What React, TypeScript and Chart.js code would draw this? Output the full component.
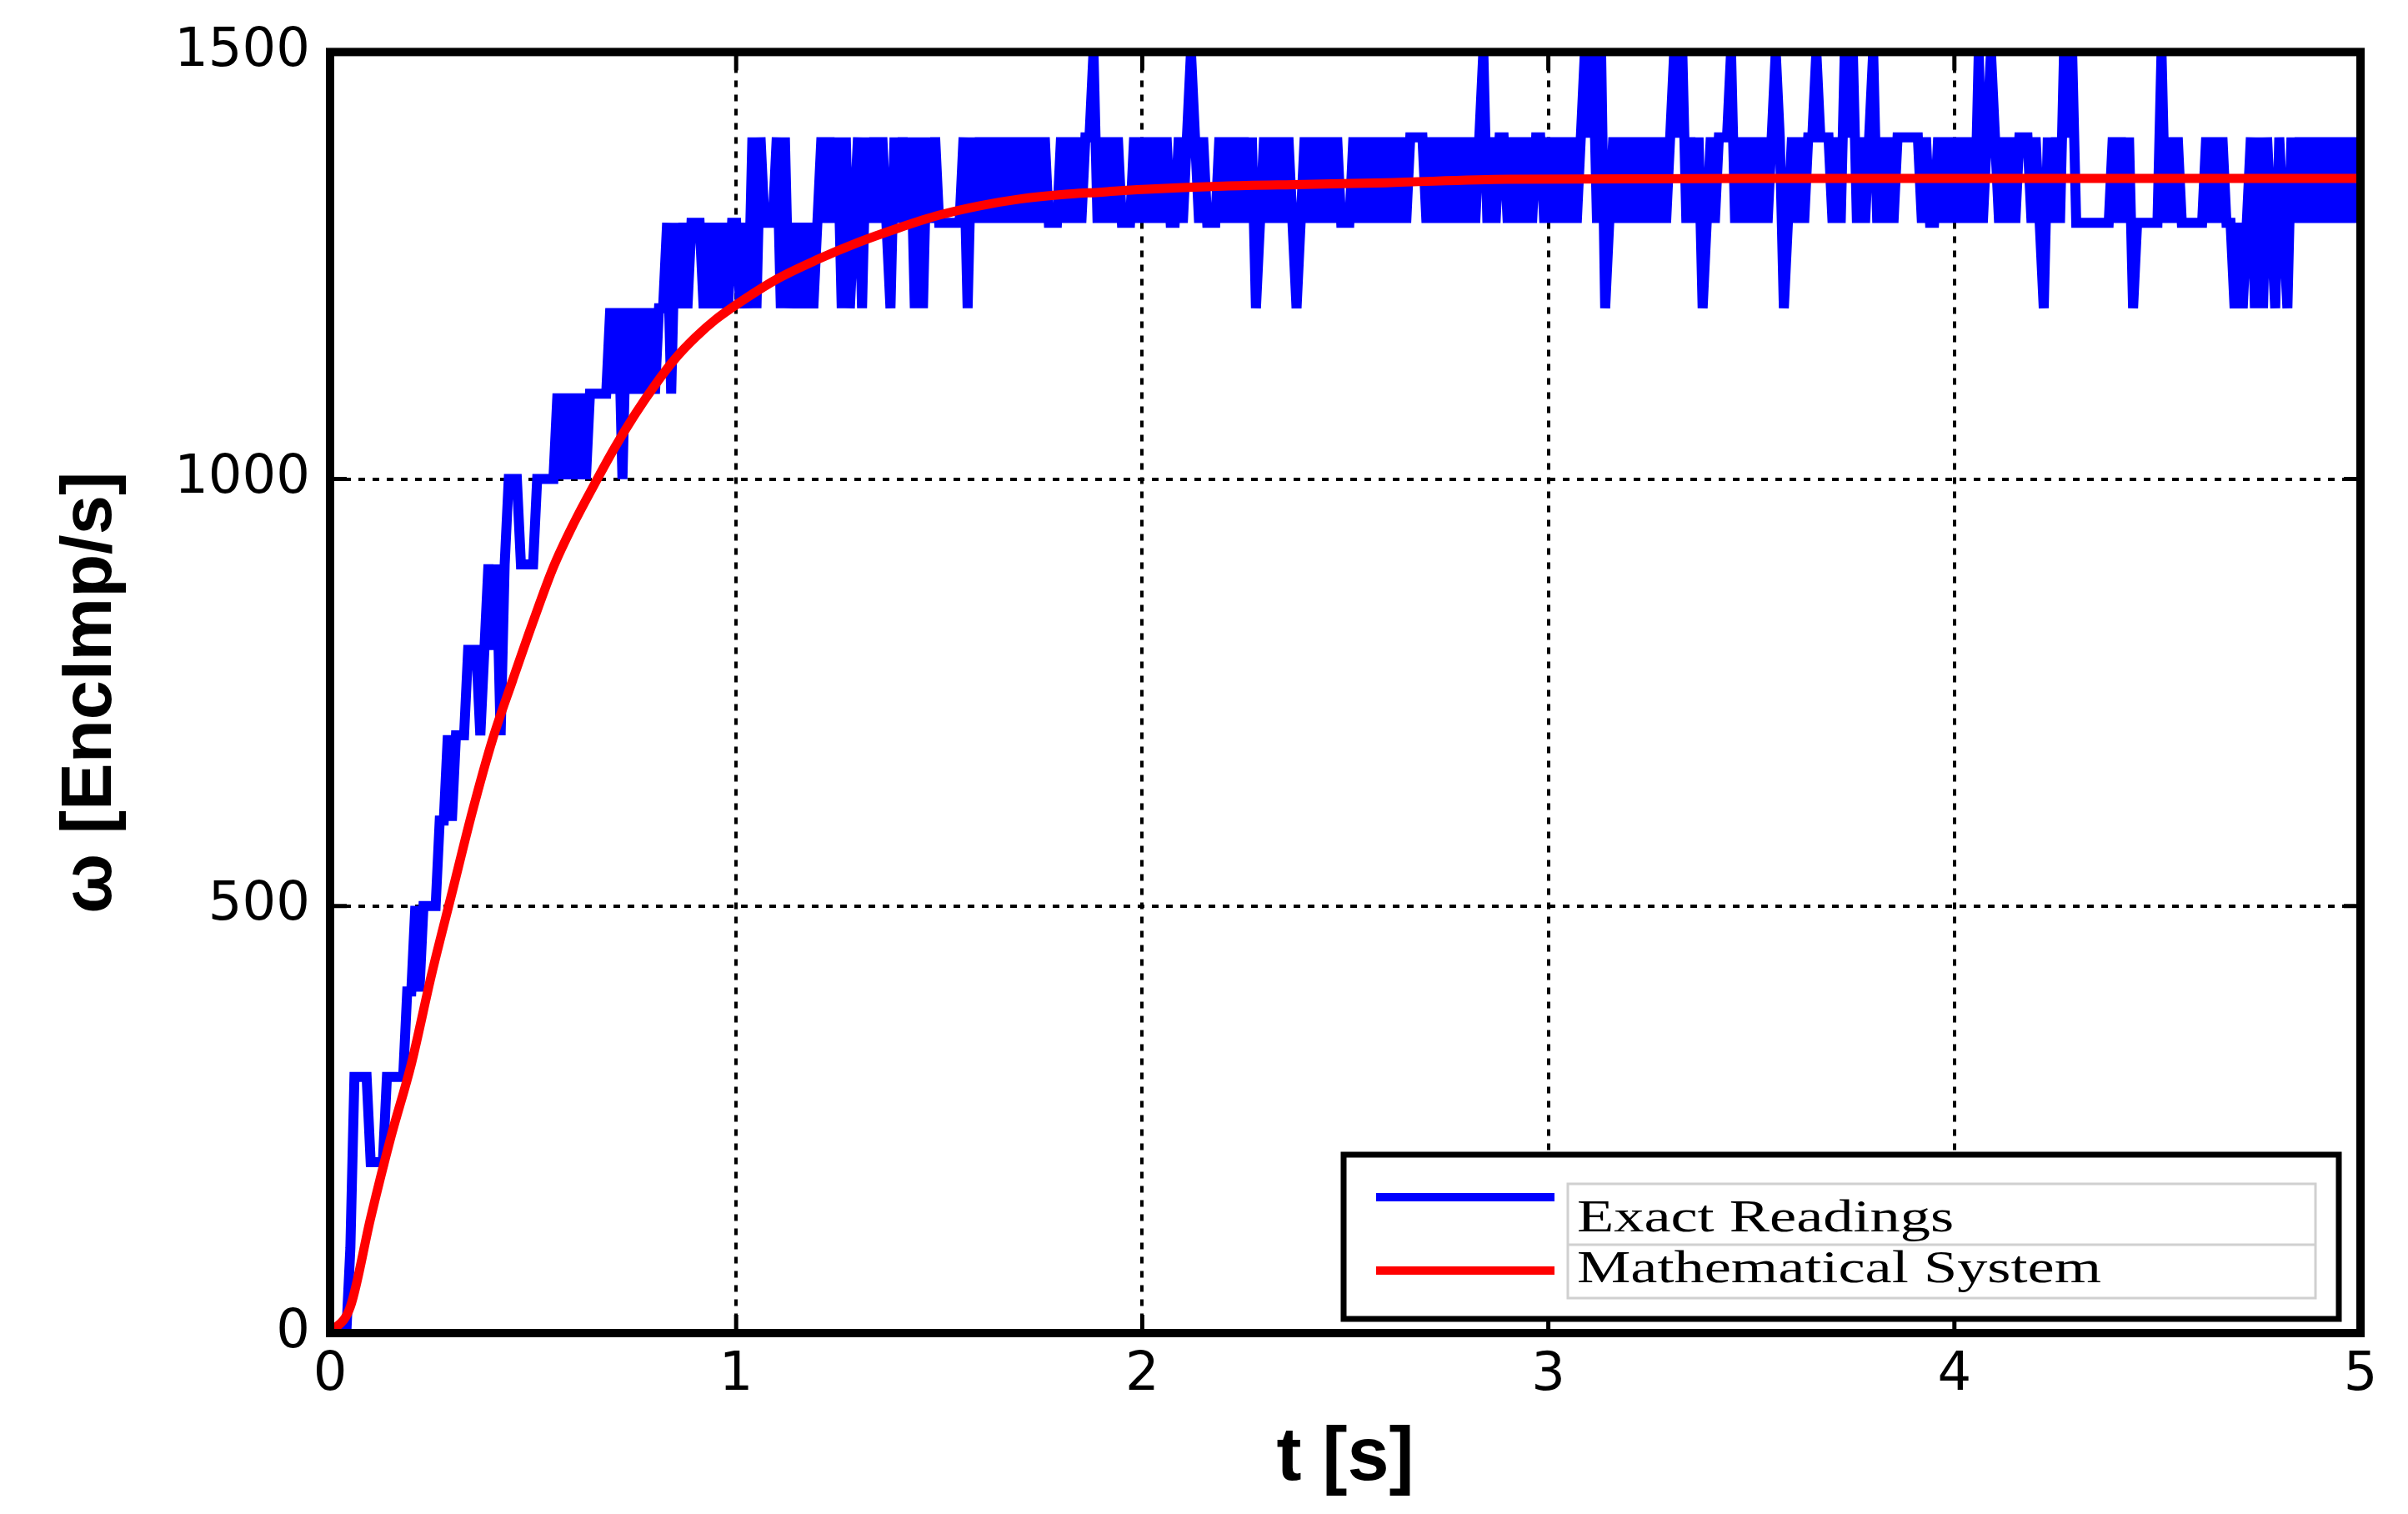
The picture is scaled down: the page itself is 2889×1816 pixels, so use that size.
import React, { useEffect, useRef } from "react";
import { Chart, registerables } from "chart.js";

Chart.register(...registerables);

// ---------------- data ----------------
const SAMPLE_DT = 0.01; // s between encoder readings

const EXACT_READINGS: number[] = [
  0, 0, 0, 0, 0, 100, 300, 300, 300, 300,
  200, 200, 200, 200, 300, 300, 300, 300, 300, 400,
  400, 500, 400, 500, 500, 500, 500, 600, 600, 700,
  600, 700, 700, 700, 800, 800, 800, 700, 800, 900,
  800, 900, 700, 900, 1000, 1000, 1000, 900, 900, 900,
  900, 1000, 1000, 1000, 1000, 1000, 1100, 1000, 1100, 1000,
  1100, 1000, 1100, 1000, 1100, 1100, 1100, 1100, 1100, 1200,
  1100, 1200, 1000, 1200, 1100, 1200, 1100, 1200, 1100, 1200,
  1100, 1200, 1200, 1300, 1100, 1300, 1200, 1300, 1200, 1300,
  1300, 1300, 1200, 1300, 1200, 1300, 1200, 1300, 1200, 1300,
  1300, 1200, 1300, 1200, 1400, 1200, 1400, 1300, 1300, 1300,
  1400, 1200, 1400, 1200, 1300, 1200, 1300, 1200, 1300, 1200,
  1300, 1400, 1300, 1400, 1300, 1400, 1200, 1400, 1200, 1300,
  1400, 1200, 1400, 1300, 1400, 1300, 1400, 1300, 1200, 1400,
  1300, 1400, 1300, 1400, 1200, 1400, 1200, 1400, 1300, 1400,
  1300, 1300, 1300, 1300, 1300, 1300, 1400, 1200, 1400, 1300,
  1400, 1300, 1400, 1300, 1400, 1300, 1400, 1300, 1400, 1300,
  1400, 1300, 1400, 1300, 1400, 1300, 1400, 1300, 1300, 1300,
  1400, 1300, 1400, 1300, 1400, 1300, 1400, 1400, 1500, 1300,
  1400, 1300, 1400, 1300, 1400, 1300, 1300, 1300, 1400, 1300,
  1400, 1300, 1400, 1300, 1400, 1300, 1400, 1300, 1300, 1400,
  1300, 1400, 1500, 1400, 1300, 1400, 1300, 1300, 1300, 1400,
  1300, 1400, 1300, 1400, 1300, 1400, 1300, 1400, 1200, 1300,
  1400, 1300, 1400, 1300, 1400, 1300, 1400, 1300, 1200, 1300,
  1400, 1300, 1400, 1300, 1400, 1300, 1400, 1300, 1400, 1300,
  1300, 1300, 1400, 1300, 1400, 1300, 1400, 1300, 1400, 1300,
  1400, 1300, 1400, 1300, 1400, 1300, 1400, 1400, 1400, 1400,
  1300, 1400, 1300, 1400, 1300, 1400, 1300, 1400, 1300, 1400,
  1300, 1400, 1300, 1400, 1500, 1300, 1400, 1300, 1400, 1400,
  1300, 1400, 1300, 1400, 1300, 1400, 1300, 1400, 1400, 1300,
  1400, 1300, 1400, 1300, 1400, 1300, 1400, 1300, 1400, 1500,
  1400, 1500, 1300, 1500, 1200, 1300, 1400, 1300, 1400, 1300,
  1400, 1300, 1400, 1300, 1400, 1300, 1400, 1300, 1400, 1300,
  1400, 1500, 1400, 1500, 1300, 1400, 1300, 1400, 1200, 1300,
  1400, 1300, 1400, 1400, 1400, 1500, 1300, 1400, 1300, 1400,
  1300, 1400, 1300, 1400, 1300, 1400, 1500, 1400, 1200, 1300,
  1400, 1300, 1400, 1300, 1400, 1400, 1500, 1400, 1400, 1400,
  1300, 1400, 1300, 1500, 1400, 1500, 1300, 1400, 1300, 1400,
  1500, 1300, 1400, 1300, 1400, 1300, 1400, 1400, 1400, 1400,
  1400, 1400, 1300, 1400, 1300, 1300, 1400, 1300, 1400, 1300,
  1400, 1300, 1400, 1300, 1400, 1300, 1500, 1300, 1400, 1500,
  1400, 1300, 1400, 1300, 1400, 1300, 1400, 1400, 1400, 1300,
  1400, 1300, 1200, 1400, 1300, 1400, 1300, 1500, 1400, 1500,
  1300, 1300, 1300, 1300, 1300, 1300, 1300, 1300, 1300, 1400,
  1300, 1400, 1300, 1400, 1200, 1300, 1300, 1300, 1300, 1300,
  1300, 1500, 1300, 1400, 1300, 1400, 1300, 1300, 1300, 1300,
  1300, 1300, 1400, 1300, 1400, 1300, 1400, 1300, 1300, 1200,
  1300, 1200, 1300, 1400, 1200, 1400, 1200, 1400, 1300, 1200,
  1400, 1300, 1200, 1400, 1300, 1400, 1300, 1400, 1300, 1400,
  1300, 1400, 1300, 1400, 1300, 1400, 1300, 1400, 1300, 1400,
  1300,
];

const MODEL_T: number[] = [
  0, 0.05, 0.1, 0.15, 0.2, 0.25, 0.3, 0.35, 0.4, 0.45, 0.5, 0.55, 0.6, 0.65,
  0.7, 0.75, 0.8, 0.85, 0.9, 0.95, 1.0, 1.1, 1.2, 1.3, 1.4, 1.5, 1.6, 1.7,
  1.8, 1.9, 2.0, 2.2, 2.4, 2.6, 2.9, 3.5, 4.0, 5.0,
];
const MODEL_V: number[] = [
  0, 31, 135, 230, 315, 420, 515, 610, 695, 765, 833, 897, 948, 993,
  1036, 1075, 1110, 1141, 1166, 1187, 1204, 1234, 1257, 1277, 1294, 1309, 1320, 1328,
  1333, 1336, 1339, 1343, 1345, 1347, 1351, 1352, 1352, 1352,
];

const X_TICKS: number[] = [0, 1, 2, 3, 4, 5];
const Y_TICKS: number[] = [0, 500, 1000, 1500];
const X_TITLE = "t [s]";
const Y_TITLE = "\u03c9 [EncImp/s]";
const SERIES_LABELS: string[] = ["Exact Readings", "Mathematical System"];
const SERIES_COLORS: string[] = ["#0000ff", "#ff0000"];

// ---------------- plugins ----------------
const framePlugin = {
  id: "matlabFrame",
  afterDatasetsDraw(chart: any) {
    const { ctx, chartArea: a, scales } = chart;
    ctx.save();
    ctx.strokeStyle = "#000";
    ctx.lineWidth = 5;
    ctx.beginPath();
    for (const v of X_TICKS) {
      const px = scales.x.getPixelForValue(v);
      ctx.moveTo(px, a.bottom);
      ctx.lineTo(px, a.bottom - 22);
      ctx.moveTo(px, a.top);
      ctx.lineTo(px, a.top + 22);
    }
    for (const v of Y_TICKS) {
      const py = scales.y.getPixelForValue(v);
      ctx.moveTo(a.left, py);
      ctx.lineTo(a.left + 20, py);
      ctx.moveTo(a.right, py);
      ctx.lineTo(a.right - 20, py);
    }
    ctx.stroke();
    ctx.lineWidth = 10;
    ctx.strokeRect(a.left, a.top, a.right - a.left, a.bottom - a.top);
    ctx.restore();
  },
};

const legendPlugin = {
  id: "boxLegend",
  afterDraw(chart: any) {
    const { ctx, chartArea: a } = chart;
    const w = 1194;
    const h = 197;
    const right = a.right - 26;
    const bottom = a.bottom - 17;
    const left = right - w;
    const top = bottom - h;
    ctx.save();
    ctx.fillStyle = "#fff";
    ctx.fillRect(left, top, w, h);
    ctx.strokeStyle = "#000";
    ctx.lineWidth = 7;
    ctx.strokeRect(left, top, w, h);

    // inner text box
    ctx.strokeStyle = "#d0d0d0";
    ctx.lineWidth = 3;
    ctx.strokeRect(left + 269, top + 35, 897, 137);
    ctx.beginPath();
    ctx.moveTo(left + 269, top + 108);
    ctx.lineTo(left + 1166, top + 108);
    ctx.stroke();

    const rowY = [top + 51, top + 139];
    const baseY = [top + 92, top + 153];
    SERIES_LABELS.forEach((label, i) => {
      ctx.strokeStyle = SERIES_COLORS[i];
      ctx.lineWidth = 10;
      ctx.beginPath();
      ctx.moveTo(left + 39, rowY[i]);
      ctx.lineTo(left + 253, rowY[i]);
      ctx.stroke();

      ctx.save();
      ctx.translate(left + 280, baseY[i]);
      ctx.scale(1.34, 1);
      ctx.fillStyle = "#000";
      ctx.font = "54px 'Liberation Serif', 'Times New Roman', serif";
      ctx.textBaseline = "alphabetic";
      ctx.textAlign = "left";
      ctx.fillText(label, 0, 0);
      ctx.restore();
    });
    ctx.restore();
  },
};

// ---------------- component ----------------
export default function App() {
  const canvasRef = useRef<HTMLCanvasElement | null>(null);

  useEffect(() => {
    document.body.style.margin = "0";
    const canvas = canvasRef.current;
    if (!canvas) return;

    const readings = EXACT_READINGS.map((v, i) => ({ x: Number((i * SAMPLE_DT).toFixed(2)), y: v }));
    const model = MODEL_T.map((t, i) => ({ x: t, y: MODEL_V[i] }));

    const chart = new Chart(canvas, {
      type: "line",
      data: {
        datasets: [
          {
            label: SERIES_LABELS[1],
            data: model,
            borderColor: SERIES_COLORS[1],
            borderWidth: 11,
            pointRadius: 0,
            cubicInterpolationMode: "monotone",
            fill: false,
            order: 0,
          },
          {
            label: SERIES_LABELS[0],
            data: readings,
            borderColor: SERIES_COLORS[0],
            borderWidth: 12,
            pointRadius: 0,
            tension: 0,
            fill: false,
            order: 1,
          },
        ],
      },
      options: {
        animation: false,
        responsive: false,
        devicePixelRatio: 1,
        layout: { padding: { top: 59, right: 57, left: 0, bottom: 0 } },
        plugins: { legend: { display: false }, tooltip: { enabled: false } },
        elements: { point: { radius: 0 } },
        scales: {
          x: {
            type: "linear",
            min: 0,
            max: 5,
            afterBuildTicks: (s: any) => {
              s.ticks = X_TICKS.map((v) => ({ value: v }));
            },
            afterFit: (s: any) => {
              s.height = 217;
            },
            grid: { color: "#000", lineWidth: 4, drawTicks: false },
            border: { display: false, dash: [8, 9] },
            ticks: {
              color: "#000",
              padding: 13,
              autoSkip: false,
              maxRotation: 0,
              font: { family: "'DejaVu Sans', sans-serif", size: 64 },
              callback: (v: any) => String(v),
            },
            title: {
              display: true,
              text: X_TITLE,
              color: "#000",
              font: { family: "'Liberation Sans', Arial, sans-serif", size: 90, weight: "bold" },
              padding: { top: 0, bottom: 12 },
            },
          },
          y: {
            type: "linear",
            min: 0,
            max: 1500,
            afterBuildTicks: (s: any) => {
              s.ticks = Y_TICKS.map((v) => ({ value: v }));
            },
            afterFit: (s: any) => {
              s.width = 396;
            },
            grid: { color: "#000", lineWidth: 4, drawTicks: false },
            border: { display: false, dash: [8, 9] },
            ticks: {
              color: "#000",
              padding: 24,
              autoSkip: false,
              font: { family: "'DejaVu Sans', sans-serif", size: 64 },
              callback: (v: any) => String(v),
            },
            title: {
              display: true,
              text: Y_TITLE,
              color: "#000",
              font: { family: "'Liberation Sans', Arial, sans-serif", size: 85, weight: "bold" },
              padding: { top: 59, bottom: 0 },
            },
          },
        },
      },
      plugins: [framePlugin, legendPlugin],
    } as any);

    return () => {
      chart.destroy();
    };
  }, []);

  return (
    <div style={{ position: "absolute", left: 0, top: 0, width: 2889, height: 1816, background: "#fff" }}>
      <canvas ref={canvasRef} width={2889} height={1816} style={{ display: "block", width: 2889, height: 1816 }} />
    </div>
  );
}
